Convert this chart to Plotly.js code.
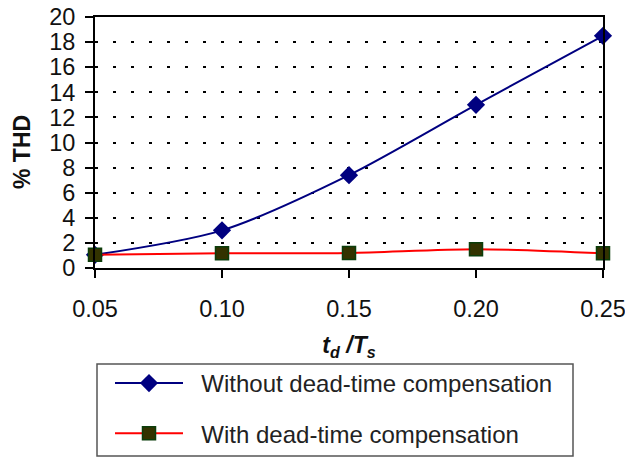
<!DOCTYPE html>
<html>
<head>
<meta charset="utf-8">
<script src="https://cdn.plot.ly/plotly-3.0.1.min.js"></script>
<style>html,body{margin:0;padding:0;background:#fff;}</style>
</head>
<body>
<div id="chart" style="width:625px;height:457px;"></div>
<script>
// Data
const ratio = [0.05, 0.10, 0.15, 0.20, 0.25];
const thdWithout = [1.05, 3.0, 7.4, 13.0, 18.5];
const thdWith = [1.05, 1.17, 1.2, 1.5, 1.17];
const xTickLabels = ['0.05', '0.10', '0.15', '0.20', '0.25'];
const seriesNames = ['Without dead-time compensation', 'With dead-time compensation'];
const yTitle = '% THD';

const FONT = 'Liberation Sans, Arial, sans-serif';
const PAD = '\u00a0\u00a0';

const traces = [
  {
    x: ratio, y: thdWithout, name: PAD + seriesNames[0], type: 'scatter', mode: 'lines+markers',
    line: {color: '#000080', width: 2, shape: 'spline', smoothing: 0.8},
    marker: {symbol: 'diamond', size: 14, color: '#000080'},
    cliponaxis: false, legendgroup: 'a'
  },
  {
    x: ratio, y: thdWith, name: PAD + seriesNames[1], type: 'scatter', mode: 'lines+markers',
    line: {color: '#ff0000', width: 2, shape: 'spline', smoothing: 0.8},
    marker: {symbol: 'square', size: 13, color: '#333300', line: {color: '#0b3d0b', width: 1.5}},
    cliponaxis: false, legendgroup: 'b'
  }
];

// plot area in pixels: left 95, right 603, top 17, bottom 268
const W = 625, H = 457, L = 95, R = 22, T = 17, B = 189;
const pw = W - L - R, ph = H - T - B;
const px = v => (v - L) / pw;
const py = v => (H - B - v) / ph;

const layout = {
  width: W, height: H,
  margin: {l: L, r: R, t: T, b: B, autoexpand: false},
  paper_bgcolor: '#fff', plot_bgcolor: '#fff',
  font: {family: FONT, color: '#111', size: 23},
  showlegend: true,
  xaxis: {
    range: [0.05, 0.25],
    tickvals: ratio, ticktext: xTickLabels,
    ticks: 'outside', ticklen: 8, tickwidth: 2, tickcolor: '#000',
    showline: true, linecolor: '#000', linewidth: 2, mirror: true,
    showgrid: false, zeroline: false,
    ticklabeloverflow: 'allow', ticklabelstandoff: 11,
    automargin: false,
    tickfont: {size: 23.5, family: FONT, color: '#111'},
    title: {text: '<b><i>t</i></b><sub><b><i>d</i></b></sub><b><i> /T</i></b><sub><b><i>s</i></b></sub>',
            font: {size: 23, family: FONT, color: '#111'}, standoff: 16}
  },
  yaxis: {
    range: [0, 20], dtick: 2, tick0: 0,
    ticks: 'outside', ticklen: 8, tickwidth: 2, tickcolor: '#000',
    showline: true, linecolor: '#000', linewidth: 2, mirror: true,
    showgrid: true, gridcolor: '#000', gridwidth: 2, griddash: '3px,15px',
    zeroline: false, automargin: false,
    ticklabelstandoff: 5, ticklabeloverflow: 'allow',
    tickfont: {size: 23.5, family: FONT, color: '#111'}
  },
  annotations: [
    {text: '<b>' + yTitle + '</b>', xref: 'paper', yref: 'paper', x: px(22), y: py(152),
     xanchor: 'center', yanchor: 'middle', textangle: -90, showarrow: false,
     font: {size: 23, family: FONT, color: '#111'}}
  ],
  shapes: [
    {type: 'rect', xref: 'paper', yref: 'paper', x0: px(97), x1: px(573), y0: py(364), y1: py(456),
     line: {color: '#555', width: 1.5}, fillcolor: 'rgba(0,0,0,0)'}
  ],
  legend: {
    x: px(110), xanchor: 'left', y: py(361), yanchor: 'top',
    borderwidth: 0, bgcolor: 'rgba(0,0,0,0)',
    font: {size: 24, family: FONT, color: '#222'},
    itemwidth: 68, traceorder: 'grouped', tracegroupgap: 16,
    orientation: 'v'
  }
};

Plotly.newPlot('chart', traces, layout, {displayModeBar: false, staticPlot: true});
</script>
</body>
</html>
